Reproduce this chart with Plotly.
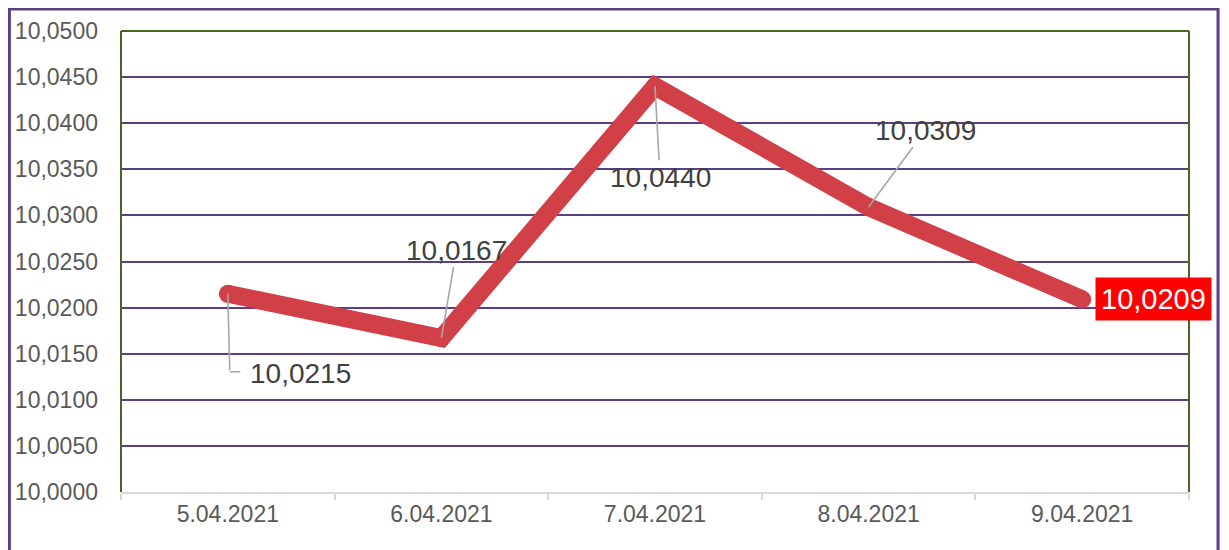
import plotly.graph_objects as go

dates = ["5.04.2021", "6.04.2021", "7.04.2021", "8.04.2021", "9.04.2021"]
values = [10.0215, 10.0167, 10.0440, 10.0309, 10.0209]
label_texts = ["10,0215", "10,0167", "10,0440", "10,0309", "10,0209"]
y_ticks = [10.0000, 10.0050, 10.0100, 10.0150, 10.0200, 10.0250, 10.0300,
           10.0350, 10.0400, 10.0450, 10.0500]

LINE_RED = "#D13F47"
GRID = "#5E3E82"
FRAME_GREEN = "#466626"
TEXT = "#595959"
LEADER = "#A6A6A6"
FONT = "Liberation Sans, Arial"

fig = go.Figure()
fig.add_trace(go.Scatter(
    x=dates, y=values, mode="lines+markers",
    line=dict(color=LINE_RED, width=18),
    marker=dict(color=LINE_RED, size=18, line=dict(width=0)),
    hoverinfo="skip", showlegend=False, cliponaxis=False,
))

lab_font = dict(family=FONT, size=28, color="#404040")
annotations = [
    # elbow leader for first label
    dict(x=dates[0], y=values[0], text="", showarrow=True, arrowhead=0,
         arrowcolor=LEADER, arrowwidth=1.6, ax=2, ay=78),
    dict(x=dates[0], y=values[0], text="", showarrow=True, arrowhead=0,
         arrowcolor=LEADER, arrowwidth=1.6, xshift=2, yshift=-78, ax=12, ay=0),
    dict(x=dates[0], y=values[0], text=label_texts[0], showarrow=False,
         xanchor="left", yanchor="middle", xshift=20, yshift=-80, font=lab_font),
    dict(x=dates[1], y=values[1], text=label_texts[1], showarrow=True, arrowhead=0,
         arrowcolor=LEADER, arrowwidth=1.6, ax=15, ay=-88, font=lab_font),
    dict(x=dates[2], y=values[2], text=label_texts[2], showarrow=True, arrowhead=0,
         arrowcolor=LEADER, arrowwidth=1.6, ax=5, ay=91, font=lab_font),
    dict(x=dates[3], y=values[3], text=label_texts[3], showarrow=True, arrowhead=0,
         arrowcolor=LEADER, arrowwidth=1.6, ax=57, ay=-77, font=lab_font),
    dict(x=dates[4], y=values[4], text=label_texts[4], showarrow=False,
         xanchor="left", yanchor="middle", xshift=13, bgcolor="#FF0000",
         borderpad=5, font=dict(family=FONT, size=29, color="#FFFFFF")),
]

shapes = [
    # outer purple frame
    dict(type="rect", xref="paper", yref="paper", x0=-0.1045, x1=1.0272,
         y0=-0.16, y1=1.0475, line=dict(color=GRID, width=3), layer="below"),
    # plot area green frame (left, top, right)
    dict(type="line", xref="paper", yref="paper", x0=0, x1=0, y0=0, y1=1,
         line=dict(color=FRAME_GREEN, width=2)),
    dict(type="line", xref="paper", yref="paper", x0=0, x1=1, y0=1, y1=1,
         line=dict(color=FRAME_GREEN, width=2)),
    dict(type="line", xref="paper", yref="paper", x0=1, x1=1, y0=0, y1=1,
         line=dict(color=FRAME_GREEN, width=2)),
]

fig.update_layout(
    width=1221, height=542,
    margin=dict(l=113, r=40, t=23, b=58, autoexpand=False),
    paper_bgcolor="white", plot_bgcolor="white",
    separators=",.",
    font=dict(family=FONT, color=TEXT),
    annotations=annotations, shapes=shapes,
    xaxis=dict(
        type="category", range=[-0.5, 4.5], showgrid=False,
        showline=True, linecolor="#D9D9D9", linewidth=2,
        ticks="outside", tickson="boundaries", ticklen=6, tickcolor="#D9D9D9",
        tickwidth=2, tickfont=dict(size=23, color=TEXT), zeroline=False,
        automargin=False,
    ),
    yaxis=dict(
        range=[10.0, 10.05], tickvals=y_ticks, tickformat=".4f",
        showgrid=True, gridcolor=GRID, gridwidth=2, zeroline=False,
        showline=False, ticks="", ticklabelstandoff=22,
        tickfont=dict(size=23, color=TEXT), automargin=False,
    ),
)

fig.write_html("out.html")
